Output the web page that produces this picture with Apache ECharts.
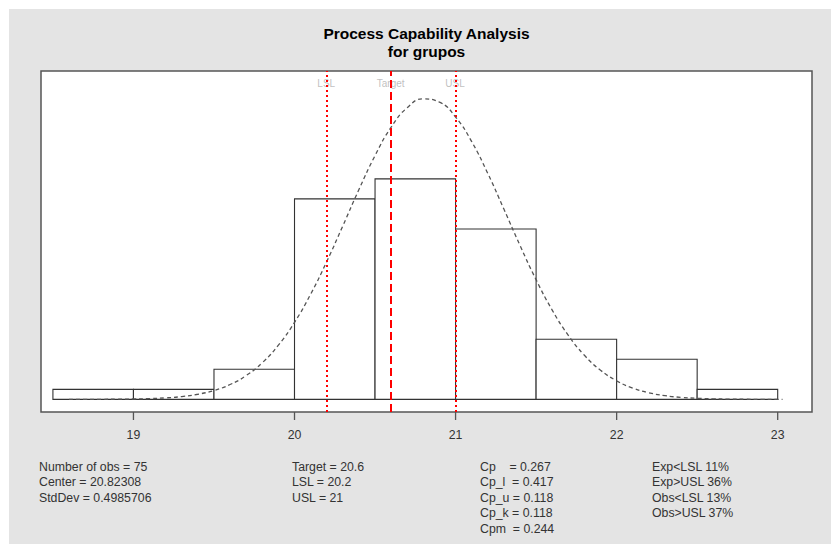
<!DOCTYPE html>
<html><head><meta charset="utf-8">
<script src="https://cdn.jsdelivr.net/npm/echarts@6/dist/echarts.min.js"></script>
<style>
html,body{margin:0;padding:0;background:#fff;}
#c{position:absolute;left:9px;top:9px;width:822px;height:535px;background:#e4e4e4;}
</style></head>
<body><div id="c"></div>
<script>
// ---- data ----
const breaks = [18.5, 19, 19.5, 20, 20.5, 21, 21.5, 22, 22.5, 23];
const counts = [1, 1, 3, 20, 22, 17, 6, 4, 1];
const nObs = 75;
const curveX = [18.6,18.7,18.8,18.9,19.0,19.1,19.2,19.3,19.4,19.5,19.6,19.7,19.8,19.9,20.0,20.1,20.2,20.3,20.4,20.5,20.6,20.7,20.8,20.9,21.0,21.1,21.2,21.3,21.4,21.5,21.6,21.7,21.8,21.9,22.0,22.1,22.2,22.3,22.4,22.5,22.6,22.7,22.8,22.9,23.0,23.03];
const curveY = [0.0000,0.0001,0.0002,0.0005,0.0010,0.0020,0.0040,0.0075,0.0136,0.0237,0.0395,0.0634,0.0975,0.1443,0.2049,0.2797,0.3665,0.4616,0.5582,0.6486,0.7240,0.7761,0.7993,0.7907,0.7512,0.6857,0.6011,0.5062,0.4096,0.3183,0.2376,0.1703,0.1173,0.0776,0.0493,0.0301,0.0177,0.0099,0.0054,0.0028,0.0014,0.0007,0.0003,0.0001,0.0001,0.0001];
const specNames = ['LSL', 'Target', 'USL'];
const specValues = [20.2, 20.6, 21];
const tickValues = [19, 20, 21, 22, 23];
const titleLines = ['Process Capability Analysis', 'for grupos'];
const col1 = ['Number of obs = 75', 'Center = 20.82308', 'StdDev = 0.4985706'];
const col2 = ['Target = 20.6', 'LSL = 20.2', 'USL = 21'];
const col3 = ['Cp    = 0.267', 'Cp_l  = 0.417', 'Cp_u = 0.118', 'Cp_k = 0.118', 'Cpm  = 0.244'];
const col4 = ['Exp<LSL 11%', 'Exp>USL 36%', 'Obs<LSL 13%', 'Obs>USL 37%'];

// ---- build ----
const YMIN = -0.0336, YMAX = 0.8736;
const binW = breaks[1] - breaks[0];
const histData = counts.map((c, i) => [breaks[i], breaks[i + 1], c / (nObs * binW)]);
const curveData = curveX.map((x, i) => [x, curveY[i]]);
const OX = 9, OY = 9;
const FONT = '"Liberation Sans", Arial, sans-serif';

const graphics = [];
titleLines.forEach((t, i) => graphics.push({type:'text', x:426.5-OX, y:33+i*18-OY,
  style:{text:t, font:'bold 15.5px ' + FONT, fill:'#000', textAlign:'center', textVerticalAlign:'middle'}}));
function addCol(lines, x, y0, dy) {
  lines.forEach((t, i) => graphics.push({type:'text', x:x-OX, y:y0+i*dy-OY,
    style:{text:t, font:'12.3px ' + FONT, fill:'#333', textAlign:'left', textVerticalAlign:'middle'}}));
}
addCol(col1, 39, 466.5, 15.5);
addCol(col2, 292, 466.5, 15.5);
addCol(col3, 480, 466.5, 15.5);
addCol(col4, 652, 466.5, 15.5);

const chart = echarts.init(document.getElementById('c'), null, {renderer:'svg'});
chart.setOption({
  backgroundColor:'transparent',
  animation:false,
  grid:{left:41-OX, top:71-OY, width:771, height:341, show:true, backgroundColor:'#fff', borderColor:'#555', borderWidth:1.5},
  xAxis:{type:'value', min:18.426, max:23.213, splitLine:{show:false},
    axisLine:{show:false},
    axisTick:{show:false},
    axisLabel:{customValues:tickValues, fontSize:12.3, fontFamily:FONT, color:'#333', margin:17}},
  yAxis:{type:'value', min:YMIN, max:YMAX, show:false, splitLine:{show:false}},
  graphic:graphics,
  series:[
    {type:'custom', z:2, data:histData, encode:{x:[0,1], y:2},
      renderItem:function(params, api){
        const p1 = api.coord([api.value(0), api.value(2)]);
        const p2 = api.coord([api.value(1), 0]);
        return {type:'rect', shape:{x:p1[0], y:p1[1], width:p2[0]-p1[0], height:p2[1]-p1[1]},
          style:{fill:'#fff', stroke:'#333', lineWidth:1.1}};
      }},
    {type:'line', z:3, data:curveData, smooth:true, symbol:'none',
      lineStyle:{color:'#555', width:1.3, type:[4,3]}},
    {type:'scatter', z:4, symbolSize:1, itemStyle:{color:'rgba(0,0,0,0)'},
      data:specValues.map((v, i) => ({value:[v, 0.84], name:specNames[i]})),
      label:{show:true, position:[0,0], align:'center', verticalAlign:'middle', formatter:p => p.name, color:'#b0b0b0', fontSize:10, fontFamily:FONT},
      markLine:{silent:true, symbol:'none', label:{show:false},
        data:specValues.map((v, i) => ({xAxis:v,
          lineStyle:{color:'#ff0000', width:2, type: specNames[i] === 'Target' ? [8,4] : [2,3]}}))}}
  ]
});
// axis ticks positioned through the axis scale
const tickGraphics = tickValues.map(v => {
  const p = chart.convertToPixel({xAxisIndex:0, yAxisIndex:0}, [v, YMIN]);
  return {type:'line', z:10, shape:{x1:p[0], y1:p[1], x2:p[0], y2:p[1] + 8},
    style:{stroke:'#555', lineWidth:1.3}};
});
chart.setOption({graphic: graphics.concat(tickGraphics)});
</script></body></html>
